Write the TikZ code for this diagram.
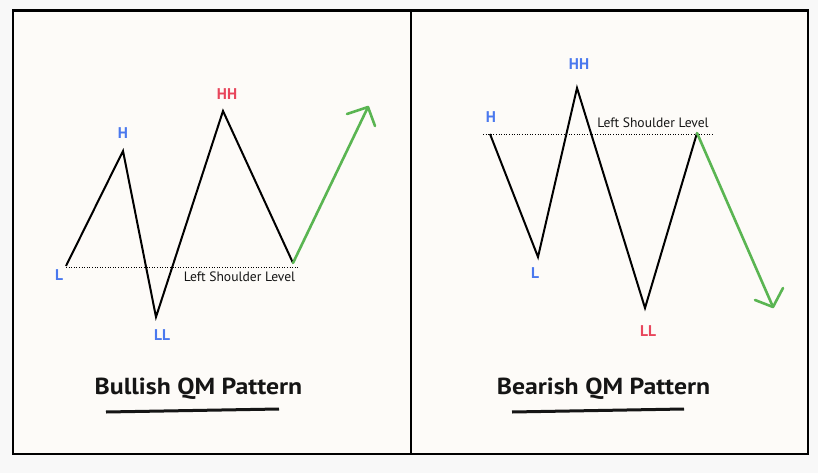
\documentclass[tikz,border=0pt]{standalone}
\usepackage{fontspec}
\setmainfont{PT Sans}
\newfontfamily\titlefont[FakeStretch=1.11]{PT Sans}
\definecolor{outerbg}{HTML}{F8F8F8}
\definecolor{cream}{HTML}{FDFBF8}
\definecolor{lblue}{HTML}{4A78EE}
\definecolor{lred}{HTML}{E8465C}
\definecolor{lgreen}{HTML}{5AB552}
\definecolor{ink}{HTML}{151515}
\begin{document}
\begin{tikzpicture}[x=1pt,y=-1pt,
  zig/.style={draw=black,line width=2pt,line join=miter},
  grn/.style={draw=lgreen,line width=2.6pt,line cap=round,line join=round},
  lvl/.style={draw=black,line width=0.8pt,dash pattern=on 1pt off 1.6pt},
  ptlab/.style={font=\bfseries\fontsize{15.5}{16}\selectfont,inner sep=0pt,anchor=base},
  lvltext/.style={font=\fontsize{13.6}{14}\selectfont,text=ink,inner sep=0pt,anchor=base},
  title/.style={font=\titlefont\bfseries\fontsize{23.2}{24}\selectfont,text=ink,inner sep=0pt,anchor=base},
  uline/.style={draw=ink,line width=3pt}]
\useasboundingbox (0,0) rectangle (818,473);
\fill[outerbg] (0,0) rectangle (818,473);
\fill[cream] (13,10.5) rectangle (808,454);
\draw[line width=2.5pt] (13,10.5) rectangle (808,454);
\draw[line width=2pt] (411,10.5) -- (411,454);

% ---------- Bullish ----------
\coordinate (bL) at (66,266);
\coordinate (bH) at (123,151);
\coordinate (bLL) at (156,317);
\coordinate (bHH) at (223,111);
\coordinate (bRS) at (293,263);
\coordinate (bT) at (368,107);
\coordinate (bA1) at (347,114);
\coordinate (bA2) at (375,126);
\coordinate (bD1) at (66,267);
\coordinate (bD2) at (298,267);
\draw[lvl] (bD1) -- (bD2);
\draw[zig] (bL) -- (bH) -- (bLL) -- (bHH) -- (bRS);
\draw[grn] (bRS) -- (bT);
\draw[grn] (bA1) -- (bT) -- (bA2);
\node[ptlab,text=lblue] (tbL) at (59,280) {L};
\node[ptlab,text=lblue] (tbH) at (123,139) {H};
\node[ptlab,text=lblue] (tbLL) at (162,340) {LL};
\node[ptlab,text=lred] (tbHH) at (227,100) {HH};
\node[lvltext] (tbLvl) at (239.5,281) {Left Shoulder Level};
\node[title] (tbull) at (198.5,394) {Bullish QM Pattern};
\coordinate (bU1) at (106,412);
\coordinate (bU2) at (279,409);
\draw[uline] (bU1) -- (bU2);

% ---------- Bearish ----------
\coordinate (sH) at (490,134);
\coordinate (sL) at (538,257);
\coordinate (sHH) at (577,88);
\coordinate (sLL) at (645,308);
\coordinate (sRS) at (697,133);
\coordinate (sT) at (773,307);
\coordinate (sA1) at (755,300);
\coordinate (sA2) at (783,288);
\coordinate (sD1) at (483,134);
\coordinate (sD2) at (713,134);
\draw[lvl] (sD1) -- (sD2);
\draw[zig] (sH) -- (sL) -- (sHH) -- (sLL) -- (sRS);
\draw[grn] (sRS) -- (sT);
\draw[grn] (sA1) -- (sT) -- (sA2);
\node[ptlab,text=lblue] (tsH) at (491,123) {H};
\node[ptlab,text=lblue] (tsL) at (535,278) {L};
\node[ptlab,text=lblue] (tsHH) at (579,70) {HH};
\node[ptlab,text=lred] (tsLL) at (648,336) {LL};
\node[lvltext] (tsLvl) at (653,128) {Left Shoulder Level};
\node[title] (tbear) at (603.5,394) {Bearish QM Pattern};
\coordinate (sU1) at (512,412);
\coordinate (sU2) at (684,409);
\draw[uline] (sU1) -- (sU2);
\end{tikzpicture}
\end{document}
